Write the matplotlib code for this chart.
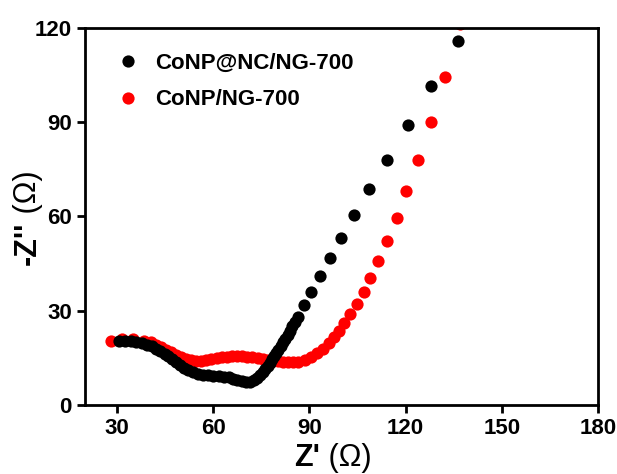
import matplotlib
matplotlib.use("Agg")
import matplotlib.pyplot as plt

plt.rcParams['font.family'] = ['Liberation Sans', 'DejaVu Sans']
plt.rcParams['font.weight'] = 'bold'

label_black = "CoNP@NC/NG-700"
label_red = "CoNP/NG-700"

black_x = [30.7, 32.5, 34.3, 36.0, 37.7, 39.3, 40.8, 42.2, 43.5, 44.8, 46.0, 47.2,
           48.4, 49.6, 50.9, 52.2, 53.6, 55.1, 56.7, 58.3, 60.0, 61.7, 63.3, 64.8,
           66.2, 67.5, 68.8, 70.1, 71.4, 72.6, 73.7, 74.7, 75.5, 76.2, 77.0, 77.6,
           78.3, 79.0, 79.6, 80.3, 81.0, 81.7, 82.4, 83.2, 83.9, 84.6, 85.5, 86.3,
           88.3, 90.6, 93.3, 96.4, 99.8, 104.0, 108.6, 114.2, 120.6, 127.8, 136.2]
black_y = [20.2, 20.3, 20.2, 20.0, 19.7, 19.2, 18.6, 17.9, 17.1, 16.3, 15.4, 14.5,
           13.6, 12.7, 11.8, 11.0, 10.3, 9.8, 9.5, 9.4, 9.3, 9.2, 9.0, 8.7,
           8.3, 7.9, 7.5, 7.3, 7.4, 7.8, 8.6, 9.5, 10.4, 11.3, 12.4, 13.4,
           14.5, 15.5, 16.6, 17.6, 18.8, 19.9, 21.1, 22.3, 23.6, 25.0, 26.4, 27.9,
           31.8, 36.0, 41.0, 46.9, 53.2, 60.3, 68.7, 78.1, 89.0, 101.4, 115.9]

red_x = [28.2, 31.6, 35.0, 38.5, 40.5, 42.2, 43.8, 45.3, 46.8, 48.3, 49.8, 51.4,
         53.0, 54.6, 56.2, 57.8, 59.4, 61.0, 62.6, 64.2, 65.8, 67.4, 69.0, 70.6,
         72.2, 73.8, 75.4, 77.0, 78.6, 80.2, 81.8, 83.4, 85.0, 86.5, 88.5, 90.6,
         92.5, 94.3, 96.1, 97.7, 99.3, 100.9, 102.7, 104.9, 107.0, 108.9, 111.4,
         114.2, 117.2, 120.2, 123.9, 127.8, 132.4, 137.1]
red_y = [20.4, 21.0, 20.8, 20.4, 19.9, 19.2, 18.4, 17.6, 16.8, 16.0, 15.3, 14.7,
         14.3, 14.1, 14.1, 14.3, 14.6, 14.9, 15.1, 15.3, 15.4, 15.4, 15.4, 15.3,
         15.1, 14.9, 14.6, 14.3, 14.0, 13.8, 13.6, 13.5, 13.5, 13.6, 14.2, 15.3,
         16.5, 17.9, 19.7, 21.5, 23.6, 26.0, 28.8, 32.0, 35.9, 40.5, 45.7,
         52.3, 59.6, 68.0, 78.1, 90.1, 104.4, 121.4]

x_ticks = [30, 60, 90, 120, 150, 180]
y_ticks = [0, 30, 60, 90, 120]

fig = plt.figure(figsize=(6.17, 4.74), dpi=100)
ax = fig.add_axes([0.138, 0.146, 0.831, 0.795])

ax.plot(red_x, red_y, 'o', color='#ff0000', markersize=8.8, markeredgewidth=0,
        label=label_red, zorder=2)
ax.plot(black_x, black_y, 'o', color='black', markersize=8.8, markeredgewidth=0,
        label=label_black, zorder=3)

ax.set_xlim(20, 180)
ax.set_ylim(0, 120)
ax.set_xticks(x_ticks)
ax.set_yticks(y_ticks)
ax.tick_params(direction='out', length=6, width=2, labelsize=16)
for lab in ax.get_xticklabels() + ax.get_yticklabels():
    lab.set_fontweight('bold')
for s in ax.spines.values():
    s.set_linewidth(2)

# x label: bold "Z'" followed by regular "(Ω)"
xl1 = fig.text(0.4765, 1 - 466 / 474, "Z'", fontsize=22, fontweight='bold',
               ha='left', va='baseline')
fig.canvas.draw()
ax.annotate(" (Ω)", xy=(1, 0), xycoords=xl1, ha='left', va='bottom',
            fontsize=22, fontweight='normal', annotation_clip=False)

# y label: bold "-Z''" followed by regular "(Ω)", rotated
yl1 = fig.text(0.0697, 1 - 265 / 474, "-Z''", fontsize=22, fontweight='bold',
               rotation=90, ha='right', va='bottom')
ax.annotate(" (Ω)", xy=(1, 1), xycoords=yl1, ha='right', va='bottom',
            rotation=90, fontsize=22, fontweight='normal', annotation_clip=False)

handles, labels = ax.get_legend_handles_labels()
leg = ax.legend(handles[::-1], labels[::-1], loc='upper left',
                bbox_to_anchor=(0.018, 0.986), frameon=False,
                prop={'size': 16, 'weight': 'bold'}, handletextpad=0.65,
                labelspacing=0.68, handlelength=1.2)

fig.savefig("out.png", dpi=100)
